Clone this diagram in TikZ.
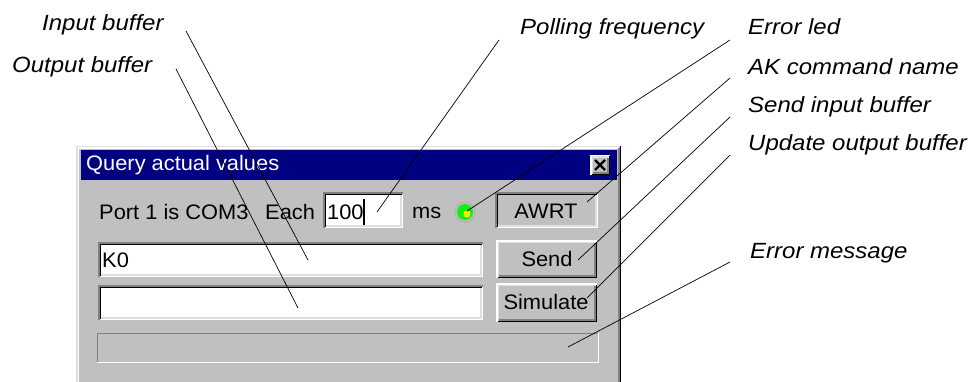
\documentclass[tikz,border=0pt]{standalone}
\usepackage{fontspec}
\setmainfont{Liberation Sans}
\newfontfamily\lblfont[FakeStretch=1.09]{Liberation Sans}
\newfontfamily\uifont[FakeStretch=1.04]{Liberation Sans}
\definecolor{winbg}{HTML}{C0C0C0}
\definecolor{windark}{HTML}{808080}
\definecolor{winlight}{HTML}{DFDFDF}
\definecolor{navy}{HTML}{000080}
\definecolor{ledgreen}{HTML}{11EE11}
\definecolor{ledyellow}{HTML}{F0F000}
\newcommand\edgeTL[5]{\draw[#5,line width=1.5pt] (#1+0.75,#4) -- (#1+0.75,#2+0.75) -- (#3,#2+0.75);}
\newcommand\edgeBR[5]{\draw[#5,line width=1.5pt] (#1,#4-0.75) -- (#3-0.75,#4-0.75) -- (#3-0.75,#2);}
% sunken field: x1 y1 x2 y2 fill
\newcommand\sunkbox[5]{%
  \fill[#5] (#1,#2) rectangle (#3,#4);
  \edgeBR{#1}{#2}{#3}{#4}{white}
  \edgeTL{#1}{#2}{#3}{#4}{windark}
  \edgeBR{#1+1.5}{#2+1.5}{#3-1.5}{#4-1.5}{winlight}
  \edgeTL{#1+1.5}{#2+1.5}{#3-1.5}{#4-1.5}{black}}
% raised button
\newcommand\upbox[4]{%
  \fill[winbg] (#1,#2) rectangle (#3,#4);
  \edgeBR{#1}{#2}{#3}{#4}{black}
  \edgeTL{#1}{#2}{#3}{#4}{white}
  \edgeBR{#1+1.5}{#2+1.5}{#3-1.5}{#4-1.5}{windark}
  \edgeTL{#1+1.5}{#2+1.5}{#3-1.5}{#4-1.5}{winlight}}
\tikzset{
  ui/.style={font=\uifont\fontsize{21}{23}\selectfont, inner sep=0pt},
  lbl/.style={font=\lblfont\fontsize{22}{24}\selectfont\itshape, inner sep=0pt, anchor=base west},
  leader/.style={draw=black, line width=0.7pt}
}
\begin{document}
\begin{tikzpicture}[x=1pt,y=-1pt]
\useasboundingbox (0,0) rectangle (973,382);
\fill[white] (0,0) rectangle (973,382);
% dialog window
\fill[winbg] (76,146) rectangle (621,382);
\draw[winlight,line width=1.5pt] (76.75,382) -- (76.75,146.75) -- (621,146.75);
\draw[white,line width=1.5pt] (78.25,382) -- (78.25,148.25) -- (619,148.25);
\draw[black,line width=1.5pt] (620.25,146) -- (620.25,382);
\draw[windark,line width=1.5pt] (618.75,148) -- (618.75,382);
% title bar
\fill[navy] (81,150) rectangle (617,180);
\node[ui,text=white,anchor=west] (title) at (86,165) {Query actual values};
\upbox{590}{155}{610}{175}
\draw[black,line width=2.4pt] (595,160) -- (605,170) (605,160) -- (595,170);
% row 1
\node[ui,anchor=west] (port) at (99,212) {Port 1 is COM3};
\node[ui,anchor=west] (each) at (265,212) {Each};
\sunkbox{323}{192}{403}{228}{white}
\node[ui,anchor=west] (freq) at (327,212) {100};
\draw[black,line width=1.4pt] (364,199) -- (364,225);
\node[ui,anchor=west] (ms) at (412,213) {ms};
% led
\draw[gray!70,line width=1.2pt,densely dotted] (465,212) circle (10);
\fill[ledgreen] (465,212) circle (8);
\fill[ledyellow] (467,214) circle (3.6);
\coordinate (led) at (467,211);
% AWRT
\sunkbox{495}{192}{598}{228}{winbg}
\node[ui] (awrt) at (546,211) {AWRT};
% input buffer
\sunkbox{98}{242}{483}{277}{white}
\node[ui,anchor=west] (k0) at (102,260) {K0};
\upbox{496}{240}{597}{278}
\node[ui] (send) at (547,259) {Send};
% output buffer
\sunkbox{98}{285}{483}{320}{white}
\upbox{496}{283}{597}{322}
\node[ui] (sim) at (546,302) {Simulate};
% status bar
\fill[winbg] (97,333) rectangle (599,363);
\draw[windark,line width=1.2pt] (97.6,363) -- (97.6,333.6) -- (599,333.6);
\draw[white,line width=1.2pt] (97,362.4) -- (598.4,362.4) -- (598.4,333);
% labels
\node[lbl] (Lin) at (42,31) {Input buffer};
\node[lbl] (Lout) at (12,73) {Output buffer};
\node[lbl] (Lpoll) at (520,35) {Polling frequency};
\node[lbl] (Lled) at (748,35) {Error led};
\node[lbl] (Lak) at (748,75) {AK command name};
\node[lbl] (Lsend) at (748,113) {Send input buffer};
\node[lbl] (Lupd) at (748,150) {Update output buffer};
\node[lbl] (Lerr) at (750,258) {Error message};
% leader end points
\coordinate (sIn) at (186,31);
\coordinate (eIn) at (308,260);
\coordinate (sOut) at (176,69);
\coordinate (eOut) at (298,308);
\coordinate (sPoll) at (499,40);
\coordinate (ePoll) at (377,212);
\coordinate (sLed) at (730,40);
\coordinate (sAk) at (730,78);
\coordinate (eAk) at (587,202);
\coordinate (sSend) at (730,117);
\coordinate (eSend) at (578,260);
\coordinate (sUpd) at (730,155);
\coordinate (eUpd) at (587,298);
\coordinate (sErr) at (730,262);
\coordinate (eErr) at (568,347);
\draw[leader] (sIn) -- (eIn);
\draw[leader] (sOut) -- (eOut);
\draw[leader] (sPoll) -- (ePoll);
\draw[leader] (sLed) -- (led);
\draw[leader] (sAk) -- (eAk);
\draw[leader] (sSend) -- (eSend);
\draw[leader] (sUpd) -- (eUpd);
\draw[leader] (sErr) -- (eErr);
\end{tikzpicture}
\end{document}
